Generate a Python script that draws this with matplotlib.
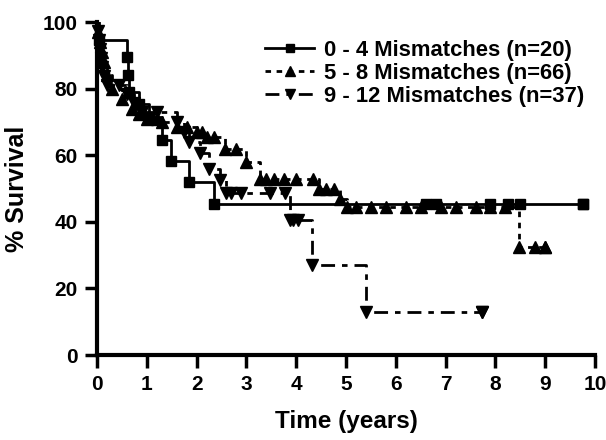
import numpy as np
import matplotlib.pyplot as plt
from matplotlib.lines import Line2D

plt.rcParams['font.family'] = ['Liberation Sans', 'DejaVu Sans']
plt.rcParams['font.weight'] = 'bold'

# 0 - 4 mismatches (squares, solid)
g1_t = [0, 0.05, 0.6, 0.62, 0.65, 0.85, 1.05, 1.3, 1.48, 1.85, 2.35, 9.76]
g1_s = [100, 94.7, 89.5, 84.2, 78.9, 75.5, 71.5, 64.6, 58.3, 52.0, 45.3, 45.3]
g1_cens = [6.6, 6.8, 7.9, 8.25, 8.5, 9.76]

# 5 - 8 mismatches (triangles, dotted)
g2_t = [0, 0.03, 0.06, 0.1, 0.15, 0.2, 0.3, 0.5, 0.7, 0.85, 1.0, 1.3, 1.6,
        2.0, 2.2, 2.57, 3.0, 3.27, 4.45, 4.88, 5.02, 8.47, 9.0]
g2_s = [100, 97, 94, 91, 88, 84, 80, 77, 74, 72.5, 71, 70, 68.5,
        67, 65.5, 62, 58, 53, 50, 47, 44.4, 32.5, 32.5]
g2_cens = [1.2, 1.8, 2.1, 2.35, 2.8, 3.4, 3.55, 3.75, 4.0, 4.34, 4.6, 4.75,
           5.2, 5.5, 5.8, 6.2, 6.5, 6.9, 7.2, 7.6, 7.9, 8.2, 8.8, 9.0]

# 9 - 12 mismatches (inverted triangles, dash-dot)
g3_t = [0, 0.02, 0.04, 0.07, 0.09, 0.11, 0.14, 0.2, 0.6, 0.75, 0.9, 1.6,
        1.75, 1.85, 2.07, 2.24, 2.47, 2.6, 3.88, 4.32, 5.4, 7.73]
g3_s = [100, 97.3, 94.6, 91.9, 89.2, 86.5, 83.8, 81.1, 78.4, 75.7, 73, 70,
        67, 64, 60.6, 56, 52.5, 48.6, 40.5, 27, 13, 13]
g3_cens = [0.45, 1.2, 2.7, 2.9, 3.47, 3.78, 3.94, 4.04, 7.73]

labels = ['0 - 4 Mismatches (n=20)', '5 - 8 Mismatches (n=66)',
          '9 - 12 Mismatches (n=37)']


def surv_at(t, s, c):
    idx = np.searchsorted(t, c, side='right') - 1
    return np.array(s)[idx]


fig = plt.figure(figsize=(6.06, 4.40), dpi=100)
ax = fig.add_axes([0.160, 0.193, 0.822, 0.757])

styles = [
    dict(ls='-', marker='s', ms=7, dashes=None),
    dict(ls='--', marker='^', ms=8, dashes=(2, 2)),
    dict(ls='--', marker='v', ms=8, dashes=(5, 2.5, 2, 2.5)),
]
groups = [(g1_t, g1_s, g1_cens), (g2_t, g2_s, g2_cens), (g3_t, g3_s, g3_cens)]

handles = []
for (t, s, c), st, lab in zip(groups, styles, labels):
    line, = ax.step(t, s, where='post', color='black', lw=2, ls=st['ls'])
    if st['dashes'] is not None:
        line.set_dashes(st['dashes'])
    mt = list(t[1:]) + list(c)
    ms = list(s[1:]) + list(surv_at(t, s, c))
    ax.plot(mt, ms, ls='none', marker=st['marker'], ms=st['ms'],
            color='black', clip_on=False)
    h = Line2D([], [], color='black', lw=2, ls=st['ls'], marker=st['marker'],
               ms=st['ms'] - 1)
    if st['dashes'] is not None:
        h.set_dashes(st['dashes'])
    handles.append(h)

ax.set_xlim(0, 10)
ax.set_ylim(0, 100)
ax.set_xticks(range(0, 11))
ax.set_yticks(range(0, 101, 20))
ax.spines['top'].set_visible(False)
ax.spines['right'].set_visible(False)
ax.spines['left'].set_linewidth(3)
ax.spines['bottom'].set_linewidth(3)
ax.tick_params(direction='out', length=9, width=2.5, labelsize=15, pad=5)
for lbl in ax.get_xticklabels() + ax.get_yticklabels():
    lbl.set_fontweight('bold')

ax.set_xlabel('Time (years)', fontsize=17.5, fontweight='bold', labelpad=12)
ax.set_ylabel('% Survival', fontsize=18, fontweight='bold', labelpad=10)

leg = fig.legend(handles, labels, loc='upper left',
                 bbox_to_anchor=(0.42, 0.935), frameon=False,
                 prop={'size': 15.8, 'weight': 'bold'},
                 handlelength=2.2, handletextpad=0.45, labelspacing=0.1,
                 borderpad=0)

fig.savefig('out.png', dpi=100)
